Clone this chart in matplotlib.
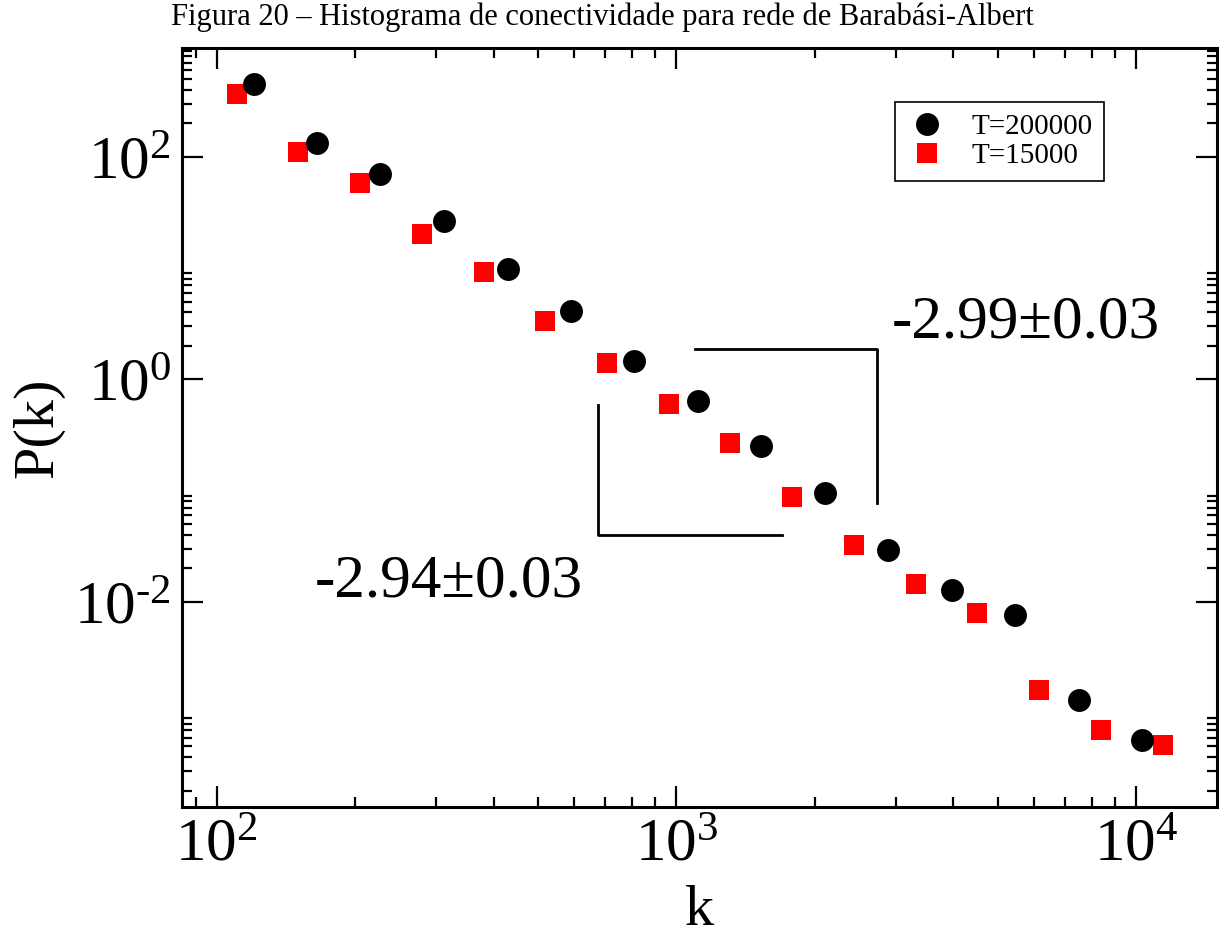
import numpy as np
import matplotlib.pyplot as plt
from matplotlib.ticker import LogLocator, NullFormatter

plt.rcParams['font.family'] = ['Liberation Serif', 'DejaVu Serif']
plt.rcParams['mathtext.fontset'] = 'custom'
plt.rcParams['mathtext.rm'] = 'Liberation Serif'
plt.rcParams['mathtext.it'] = 'Liberation Serif:italic'

# T=200000 (circles)
k_a = [120.2, 164.8, 226.7, 312.4, 429.2, 589.3, 809.4, 1114, 1530, 2101,
       2890, 3970, 5462, 7504, 10306]
p_a = [454.9, 132.2, 70.6, 26.7, 9.74, 4.085, 1.460, 0.638, 0.2499, 0.0945,
       0.02922, 0.01277, 0.00761, 0.001321, 0.000573]

# T=15000 (squares)
k_b = [110.5, 150.1, 204.8, 279.0, 380.6, 518.1, 706.0, 961.6, 1309, 1784,
       2434, 3316, 4513, 6150, 8390, 11436]
p_b = [364.6, 110.4, 57.8, 20.4, 9.29, 3.37, 1.413, 0.605, 0.2676, 0.0875,
       0.0324, 0.01437, 0.00793, 0.0016, 0.00071, 0.000516]

labels = ['T=200000', 'T=15000']

# slope guide brackets
bracket_lo_x = [673.9, 673.9, 1696]
bracket_lo_y = [0.584, 0.0402, 0.0402]
bracket_hi_x = [1099, 2731, 2731]
bracket_hi_y = [1.888, 1.888, 0.0779]
slope_texts = ['-2.99\u00b10.03', '-2.94\u00b10.03']
slope_pos = [(5763, 2.385), (319.7, 0.0112)]

title = 'Figura 20 \u2013 Histograma de conectividade para rede de Barab\u00e1si-Albert'

fig = plt.figure(figsize=(12.19, 9.38), dpi=100)
ax = fig.add_axes([0.1493, 0.1397, 0.8491, 0.8091])

ax.plot(k_a, p_a, 'o', ms=16.5, color='black', mew=0, zorder=3, label=labels[0])
ax.plot(k_b, p_b, 's', ms=14.5, color='red', mew=0, zorder=2, label=labels[1])

ax.plot(bracket_lo_x, bracket_lo_y, color='black', lw=2)
ax.plot(bracket_hi_x, bracket_hi_y, color='black', lw=2)
for txt, (tx, ty) in zip(slope_texts, slope_pos):
    ax.text(tx, ty, txt, fontsize=44, ha='center', va='baseline')

ax.set_xscale('log')
ax.set_yscale('log')
ax.set_xlim(84, 15000)
ax.set_ylim(1.43e-4, 950)

ax.set_xticks([1e2, 1e3, 1e4])
ax.set_xticklabels([r'$\mathregular{10^{2}}$', r'$\mathregular{10^{3}}$',
                    r'$\mathregular{10^{4}}$'])
ax.xaxis.set_minor_locator(LogLocator(base=10, subs=np.arange(2, 10)))
ax.xaxis.set_minor_formatter(NullFormatter())

ax.set_yticks([1e-2, 1e0, 1e2])
ax.set_yticklabels(['$\\mathregular{10^{\u20102}}$', r'$\mathregular{10^{0}}$',
                    r'$\mathregular{10^{2}}$'])
ax.yaxis.set_minor_locator(LogLocator(base=100, subs=np.arange(2, 10), numticks=20))
ax.yaxis.set_minor_formatter(NullFormatter())

ax.tick_params(which='both', direction='in', top=True, right=True, width=1.6)
ax.tick_params(which='major', length=15, labelsize=44, pad=8)
ax.tick_params(which='minor', length=7.5)
for s in ax.spines.values():
    s.set_linewidth(2.2)

ax.set_xlabel('k', fontsize=42, va='baseline')
ax.set_ylabel('P(k)', fontsize=42, va='center')
ax.xaxis.set_label_coords(0.5, -0.1555)
ax.yaxis.set_label_coords(-0.139, 0.5)

leg = ax.legend(loc='upper right', bbox_to_anchor=(0.8908, 0.9289), fontsize=21,
                frameon=True, fancybox=False, framealpha=1, edgecolor='black',
                borderaxespad=0, borderpad=0.4, handlelength=1.38,
                handletextpad=0.83, labelspacing=0.1)
leg.get_frame().set_linewidth(1.2)

fig.text(0.494, 0.997, title, fontsize=22, ha='center', va='top')

plt.savefig('out.png', dpi=100)
